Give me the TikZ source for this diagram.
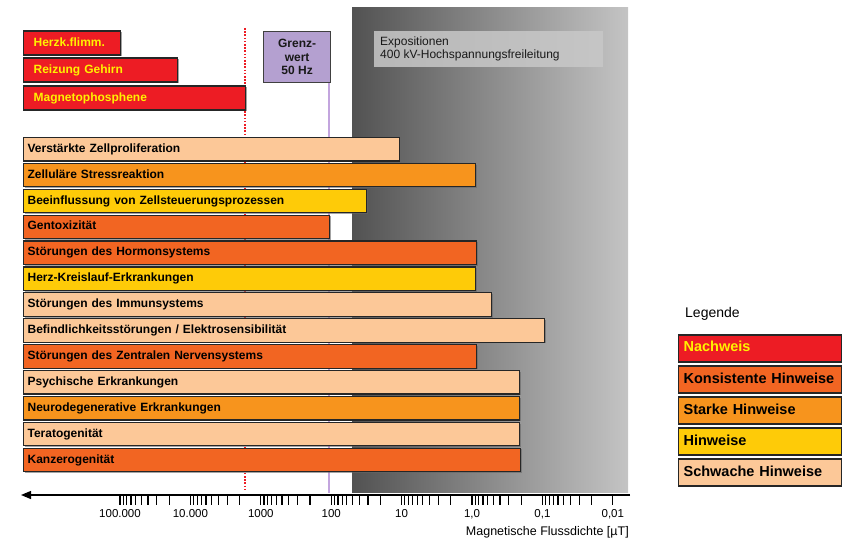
\documentclass[tikz,border=0pt]{standalone}
\usepackage{fontspec}
\setmainfont{Liberation Sans}
\usetikzlibrary{arrows.meta,shadows}
\definecolor{cNachweis}{RGB}{237,28,36}
\definecolor{cKonsist}{RGB}{242,101,34}
\definecolor{cStark}{RGB}{247,148,29}
\definecolor{cHinweis}{RGB}{254,203,8}
\definecolor{cSchwach}{RGB}{252,200,152}
\definecolor{cYellowText}{RGB}{255,242,0}
\definecolor{cGrenz}{RGB}{180,160,208}
\definecolor{cGrenzLine}{RGB}{195,165,222}
\definecolor{cGreyDark}{RGB}{82,82,82}
\definecolor{cGreyLight}{RGB}{196,196,196}
\definecolor{cExpoBox}{RGB}{200,200,200}
\tikzset{
  barbox/.style={draw=black!85, line width=1.2pt, anchor=west, minimum height=23.5pt,
    inner xsep=4pt, inner ysep=0pt, text height=8.8pt, text depth=2.6pt, align=left,
    font=\fontsize{12}{14}\selectfont\bfseries,
    drop shadow={shadow xshift=1.2pt, shadow yshift=-1.2pt, fill=black!60, opacity=0.6}},
  topbar/.style={barbox, fill=cNachweis, text=cYellowText, minimum height=24pt, inner xsep=10pt},
  legbox/.style={draw=black!85, line width=1.2pt, anchor=west, minimum height=27pt,
    inner xsep=5pt, inner ysep=0pt, text height=10pt, text depth=3pt, align=left,
    text width=153pt, font=\fontsize{14.5}{16}\selectfont\bfseries},
  ticklabel/.style={font=\fontsize{11.5}{13}\selectfont, inner sep=0pt},
  axisline/.style={line width=1.2pt, black},
  tickmark/.style={line width=1.2pt, black}
}
\begin{document}
\begin{tikzpicture}[x=1pt,y=-1pt]
\useasboundingbox (0,0) rectangle (844,540);
% grey exposure area
\shade[left color=cGreyDark, right color=cGreyLight] (352,8) rectangle (628,492);
\node[fill=cExpoBox, opacity=0.85, text opacity=1, anchor=north west, minimum width=229pt, minimum height=36pt,
  inner sep=0pt] (expo) at (374,31) {};
\node[anchor=west, align=left, inner sep=0pt, font=\fontsize{12}{13}\selectfont, text=black!90]
  (expotext) at (380,48.5) {Expositionen\\400 kV-Hochspannungsfreileitung};
% red dotted line
\coordinate (rtop) at (245,28);
\coordinate (rbot) at (245,489);
\draw[cNachweis, line width=2.8pt, dash pattern=on 1.6pt off 1.6pt] (rtop) -- (rbot);
% Grenzwert
\node[draw=black!75, line width=1.2pt, fill=cGrenz, minimum width=67pt, minimum height=51pt,
  anchor=north west, inner sep=0pt, align=center, font=\fontsize{12}{13.5}\selectfont\bfseries, text=black!90]
  (grenz) at (263,31) {Grenz-\\wert\\50 Hz};
\coordinate (gbot) at (329,493);
\draw[cGrenzLine, line width=2.6pt] (grenz.south -| gbot) -- (gbot);
% top red bars
\node[topbar, text width=77pt] (t1) at (23,43) {Herzk.flimm.};
\node[topbar, text width=134pt] (t2) at (23,70) {Reizung Gehirn};
\node[topbar, text width=202pt] (t3) at (23,98) {Magnetophosphene};
% main bars
\foreach \i/\r/\c/\t in {
  0/399/cSchwach/{Verstärkte Zellproliferation},
  1/475/cStark/{Zelluläre Stressreaktion},
  2/366/cHinweis/{Beeinflussung von Zellsteuerungsprozessen},
  3/329/cKonsist/{Gentoxizität},
  4/476/cKonsist/{Störungen des Hormonsystems},
  5/475/cHinweis/{Herz-Kreislauf-Erkrankungen},
  6/491/cSchwach/{Störungen des Immunsystems},
  7/544/cSchwach/{Befindlichkeitsstörungen / Elektrosensibilität},
  8/476/cKonsist/{Störungen des Zentralen Nervensystems},
  9/519/cSchwach/{Psychische Erkrankungen},
  10/519/cStark/{Neurodegenerative Erkrankungen},
  11/519/cSchwach/{Teratogenität},
  12/520/cKonsist/{Kanzerogenität}}{
  \pgfmathsetmacro\w{\r-23-8}
  \node[barbox, fill=\c, text width=\w pt] (b\i) at (23,149.2+25.9*\i) {\t};
}
% axis
\coordinate (axR) at (630,495);
\coordinate (axL) at (21,495);
\draw[axisline, -{Triangle[length=10pt,width=8pt]}] (axR) -- (axL);
\foreach \k/\lab in {0/100.000,1/10.000,2/1000,3/100,4/10,5/{1,0},6/{0,1},7/{0,01}}{
  \pgfmathsetmacro\xd{120+70.4*\k}
  \draw[tickmark] (\xd,495) -- (\xd,505);
  \node[ticklabel] (lab\k) at (\xd,514) {\lab};
}
\foreach \k in {0,...,6}{
  \foreach \m in {2,...,9}{
    \pgfmathsetmacro\xm{120+70.4*\k+70.4*log10(10/\m)}
    \draw[tickmark] (\xm,495) -- (\xm,505);
  }
}
\node[anchor=east, inner sep=0pt, font=\fontsize{12.5}{14}\selectfont] (axtitle) at (629,532) {Magnetische Flussdichte [µT]};
% legend
\node[anchor=west, inner sep=0pt, font=\fontsize{14}{16}\selectfont] (legtitle) at (685,314) {Legende};
\node[legbox, fill=cNachweis, text=cYellowText] (l1) at (678,348.5) {Nachweis};
\node[legbox, fill=cKonsist] (l2) at (678,379.5) {Konsistente Hinweise};
\node[legbox, fill=cStark] (l3) at (678,410.5) {Starke Hinweise};
\node[legbox, fill=cHinweis] (l4) at (678,441.5) {Hinweise};
\node[legbox, fill=cSchwach] (l5) at (678,472.5) {Schwache Hinweise};
\end{tikzpicture}
\end{document}
